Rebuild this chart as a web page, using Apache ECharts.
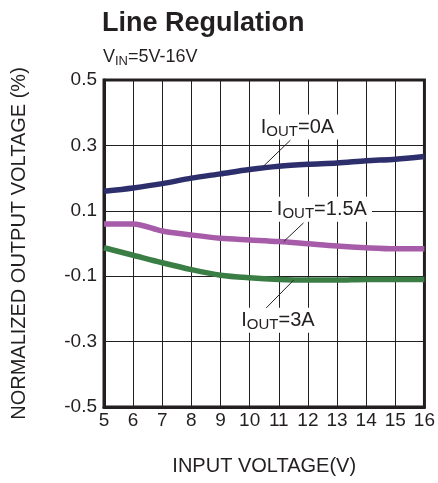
<!DOCTYPE html>
<html><head><meta charset="utf-8">
<script src="https://cdn.jsdelivr.net/npm/echarts@6/dist/echarts.min.js"></script>
<style>html,body{margin:0;padding:0;background:#fff}#c{width:438px;height:483px}</style>
</head><body><div id="c"></div>
<script>
const vin = [5, 6, 7, 8, 9, 10, 11, 12, 13, 14, 15, 16];
const iout0A = [0.160, 0.170, 0.183, 0.200, 0.213, 0.226, 0.236, 0.242, 0.246, 0.253, 0.258, 0.266];
const iout15A = [0.060, 0.060, 0.038, 0.026, 0.016, 0.011, 0.006, -0.001, -0.008, -0.013, -0.016, -0.016];
const iout3A = [-0.013, -0.036, -0.059, -0.080, -0.097, -0.105, -0.110, -0.112, -0.112, -0.110, -0.110, -0.110];
const yTicks = [-0.5, -0.3, -0.1, 0.1, 0.3, 0.5];

const font = 'Liberation Sans, Arial, sans-serif';
const ink = '#231f20';
const chart = echarts.init(document.getElementById('c'));
const pair = a => vin.map((x, i) => [x, a[i]]);
const mk = (name, data, color) => ({
  name, type: 'line', data: pair(data), smooth: 0.3, symbol: 'none',
  lineStyle: { color, width: 5.5 }, z: 5
});
chart.setOption({
  animation: false,
  title: [
    { text: 'Line Regulation', left: 97, top: 5,
      textStyle: { fontFamily: font, fontSize: 27, fontWeight: 'bold', color: ink } },
    { text: '{m|V}{s|IN}{m|=5V-16V}', left: 98, top: 41,
      textStyle: { fontWeight: 'normal', rich: {
        m: { fontFamily: font, fontSize: 18, fontWeight: 'normal', color: ink },
        s: { fontFamily: font, fontSize: 13, fontWeight: 'normal', color: ink, padding: [9, 0, 0, 0] }
      } } }
  ],
  grid: { left: 104, right: 6, top: 80, bottom: 76, show: true, borderColor: ink, borderWidth: 3, backgroundColor: 'transparent' },
  xAxis: {
    type: 'value', min: 5, max: 16, interval: 1,
    name: 'INPUT VOLTAGE(V)', nameLocation: 'middle', nameGap: 49,
    nameTextStyle: { fontFamily: font, fontSize: 20, color: ink },
    axisLine: { show: true, onZero: false, lineStyle: { color: ink, width: 3 } },
    axisTick: { show: false },
    axisLabel: { fontFamily: font, fontSize: 19, color: ink, margin: 4 },
    splitLine: { show: true, lineStyle: { color: ink, width: 1 } }
  },
  yAxis: {
    type: 'value', min: -0.5, max: 0.5, interval: 0.2,
    name: 'NORMALIZED OUTPUT VOLTAGE (%)', nameLocation: 'middle', nameGap: 75,
    nameTextStyle: { fontFamily: font, fontSize: 20, color: ink },
    axisLine: { show: true, lineStyle: { color: ink, width: 3 } },
    axisTick: { show: false },
    axisLabel: { fontFamily: font, fontSize: 19, color: ink, margin: 7,
      formatter: v => { const r = Math.round(v * 10) / 10; return yTicks.includes(r) ? r.toFixed(1) : ''; } },
    splitLine: { show: true, lineStyle: { color: ink, width: 1 } }
  },
  series: [
    mk('IOUT=0A', iout0A, '#2d2e6c'),
    mk('IOUT=1.5A', iout15A, '#a65ca8'),
    mk('IOUT=3A', iout3A, '#3a7e45')
  ]
});

// annotations positioned in data coordinates
const P = (x, y) => chart.convertToPixel({ gridIndex: 0 }, [x, y]);
const rich = {
  m: { fontFamily: font, fontSize: 20, color: ink },
  s: { fontFamily: font, fontSize: 15, color: ink, padding: [10, 0, 0, 0] }
};
function label(text, x, y) {
  const p = P(x, y);
  return { type: 'text', x: p[0], y: p[1], z: 10,
    style: { text, rich, fill: ink, align: 'center', verticalAlign: 'middle',
      backgroundColor: '#fff', padding: [0, 5, 0, 5] } };
}
function leader(x1, y1, x2, y2) {
  const a = P(x1, y1), b = P(x2, y2);
  return { type: 'line', z: 11, shape: { x1: a[0], y1: a[1], x2: b[0], y2: b[1] },
    style: { stroke: ink, lineWidth: 1 } };
}
chart.setOption({ graphic: [
  label('{m|I}{s|OUT}{m|=0A}', 11.64, 0.356),
  leader(11.4, 0.316, 10.47, 0.236),
  label('{m|I}{s|OUT}{m|=1.5A}', 12.48, 0.105),
  leader(11.85, 0.063, 11.17, 0.006),
  label('{m|I}{s|OUT}{m|=3A}', 10.97, -0.235),
  leader(10.57, -0.197, 11.51, -0.112)
]});
</script>
</body></html>
